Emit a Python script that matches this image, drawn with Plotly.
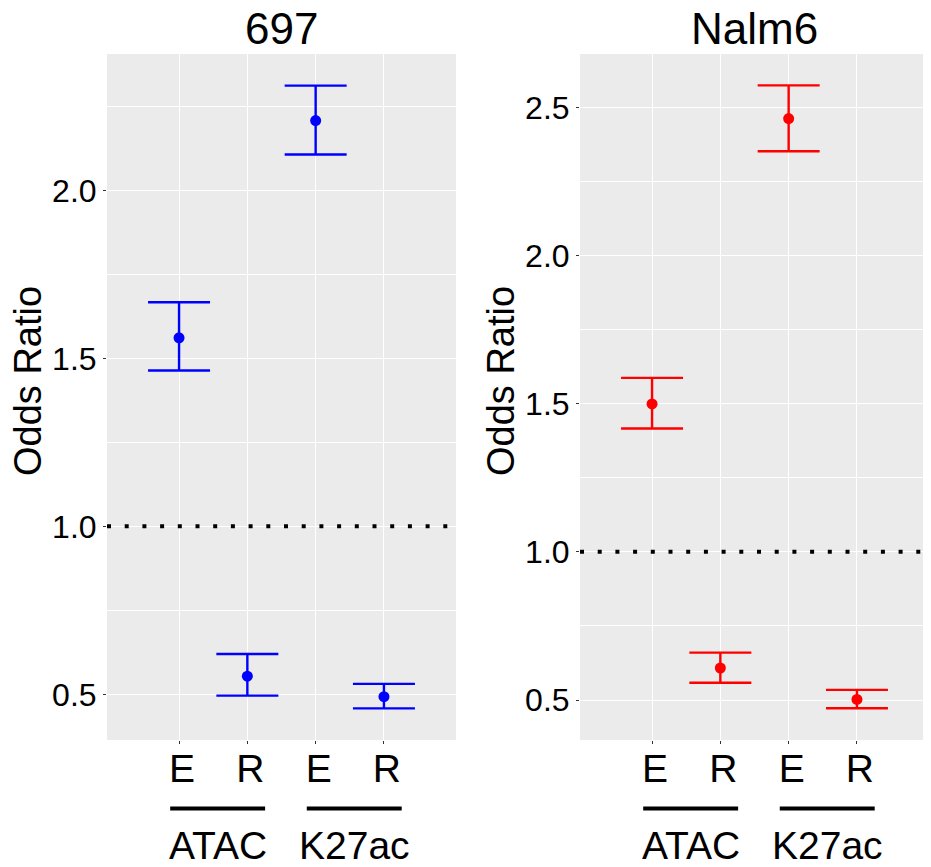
import plotly.graph_objects as go

# ---- data ----
categories = ["E", "R", "E", "R"]
groups = ["ATAC", "ATAC", "K27ac", "K27ac"]
cells = ["697", "Nalm6"]
colors = ["#0000FF", "#FF0000"]

or_697 = [1.561, 0.554, 2.208, 0.493]
lo_697 = [1.464, 0.496, 2.107, 0.458]
hi_697 = [1.667, 0.620, 2.312, 0.531]

or_nalm6 = [1.499, 0.608, 2.462, 0.502]
lo_nalm6 = [1.416, 0.558, 2.352, 0.472]
hi_nalm6 = [1.587, 0.660, 2.574, 0.534]

ref_line = 1.0
y_ticks_697 = [0.5, 1.0, 1.5, 2.0]
y_ticks_nalm6 = [0.5, 1.0, 1.5, 2.0, 2.5]

# page body has an 8px margin; size the figure to fill the rest of the window
OFF = 8
W, H = 931 - OFF, 867 - OFF
FONT = "Liberation Sans, Arial, sans-serif"
xpos = list(range(1, len(categories) + 1))

fig = go.Figure()

series = [
    (or_697, lo_697, hi_697, "x", "y"),
    (or_nalm6, lo_nalm6, hi_nalm6, "x2", "y2"),
]
for (vals, lo, hi, xa, ya), col in zip(series, colors):
    fig.add_trace(go.Scatter(
        x=xpos, y=vals, mode="markers", xaxis=xa, yaxis=ya,
        marker=dict(color=col, size=11),
        error_y=dict(type="data", symmetric=False,
                     array=[h - v for h, v in zip(hi, vals)],
                     arrayminus=[v - l for v, l in zip(vals, lo)],
                     color=col, thickness=2.4, width=31),
        showlegend=False, hoverinfo="skip",
    ))

def px_x(p):
    return (p - OFF) / W

def px_y(p):
    return 1 - (p - OFF) / H

dom_x1 = [px_x(107), px_x(456)]
dom_x2 = [px_x(580), px_x(929)]
dom_y = [px_y(740), px_y(54)]

xcommon = dict(
    range=[-0.055, 5.055], tickmode="array", tickvals=xpos, ticktext=categories,
    showgrid=True, gridcolor="white", gridwidth=1.1, zeroline=False,
    ticks="outside", ticklen=3, tickcolor="#333333",
    tickfont=dict(size=39, color="black", family=FONT),
    ticklabelshift=3, ticklabelstandoff=-9, fixedrange=True,
)
ycommon = dict(
    showgrid=True, gridcolor="white", gridwidth=1.1, zeroline=False,
    ticks="outside", ticklen=3, tickcolor="#333333",
    tickfont=dict(size=32, color="black", family=FONT),
    tickformat=".1f",
    minor=dict(dtick=0.25, tick0=0, showgrid=True, gridcolor="white", gridwidth=0.6),
)

fig.update_layout(
    width=W, height=H, margin=dict(l=0, r=0, t=0, b=0),
    paper_bgcolor="white", plot_bgcolor="#EBEBEB",
    font=dict(family=FONT, color="black"),
    xaxis=dict(domain=dom_x1, anchor="y", **xcommon),
    xaxis2=dict(domain=dom_x2, anchor="y2", **xcommon),
    yaxis=dict(domain=dom_y, anchor="x", range=[0.364, 2.406],
               tickmode="array", tickvals=y_ticks_697, **ycommon),
    yaxis2=dict(domain=dom_y, anchor="x2", range=[0.365, 2.680],
                tickmode="array", tickvals=y_ticks_nalm6, **ycommon),
)

# reference dotted line
for xr, yr in [("x", "y"), ("x2", "y2")]:
    fig.add_shape(type="line", xref=f"{xr} domain", yref=yr,
                  x0=0, x1=1, y0=ref_line, y1=ref_line,
                  line=dict(color="black", width=4, dash="4px,13.7px"))

# panel titles
for name, dom in zip(cells, [dom_x1, dom_x2]):
    fig.add_annotation(text=name, xref="paper", yref="paper",
                       x=(dom[0] + dom[1]) / 2, y=px_y(29),
                       showarrow=False, font=dict(size=44, family=FONT, color="black"),
                       xanchor="center", yanchor="middle")

# y titles
for xc in [28, 501]:
    fig.add_annotation(text="Odds Ratio", xref="paper", yref="paper",
                       x=px_x(xc), y=px_y(381), textangle=-90,
                       showarrow=False, font=dict(size=38, family=FONT, color="black"),
                       xanchor="center", yanchor="middle")

# group labels + underlines
uniq_groups = []
for g in groups:
    if g not in uniq_groups:
        uniq_groups.append(g)
for xr in ["x", "x2"]:
    for g in uniq_groups:
        members = [p for p, gg in zip(xpos, groups) if gg == g]
        x0 = min(members) - 0.13
        x1 = max(members) + 0.26
        fig.add_shape(type="line", xref=xr, yref="paper",
                      x0=x0, x1=x1, y0=px_y(808.5), y1=px_y(808.5),
                      line=dict(color="black", width=4))
        fig.add_annotation(text=g, xref=xr, yref="paper",
                           x=(x0 + x1) / 2, y=px_y(845),
                           showarrow=False, font=dict(size=39, family=FONT, color="black"),
                           xanchor="center", yanchor="middle")

fig.write_html("out.html")
